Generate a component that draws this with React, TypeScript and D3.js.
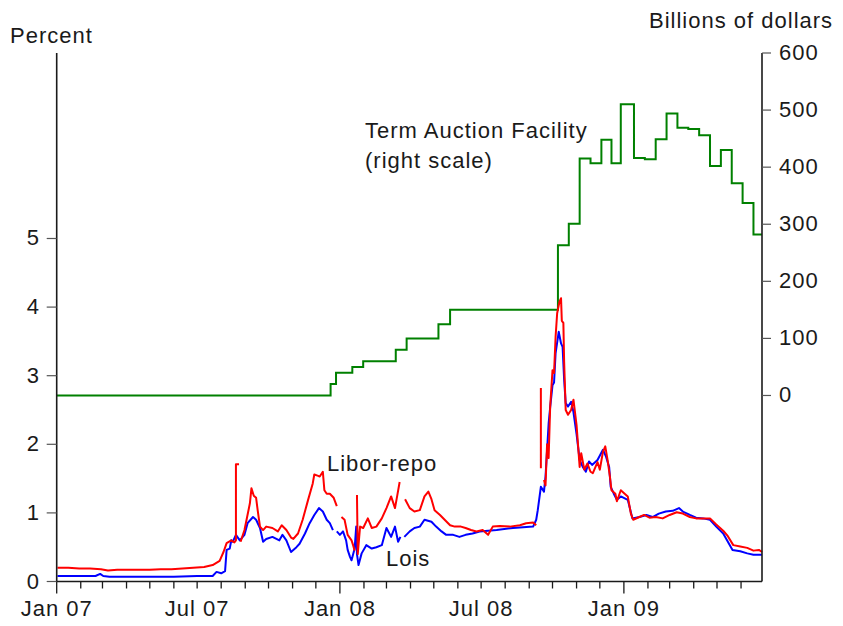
import React from "react";
import * as d3 from "d3";

const W = 843;
const H = 626;

// Libor-repo spread (percent), null = gap in the data
const liborDates = [
  "2007-01-02","2007-01-16","2007-01-30","2007-02-13","2007-02-27","2007-03-08","2007-03-20","2007-04-03",
  "2007-04-17","2007-05-01","2007-05-15","2007-05-29","2007-06-12","2007-06-26","2007-07-10","2007-07-21",
  "2007-07-30","2007-08-04","2007-08-08","2007-08-14","2007-08-18","2007-08-20","2007-08-20","2007-08-24",
  "2007-08-25","2007-08-26","2007-08-31","2007-09-07","2007-09-09","2007-09-12","2007-09-15","2007-09-17",
  "2007-09-20","2007-09-24","2007-09-28","2007-10-06","2007-10-13","2007-10-18","2007-10-24","2007-10-30",
  "2007-11-02","2007-11-08","2007-11-14","2007-11-21","2007-11-27","2007-11-29","2007-12-04","2007-12-06",
  "2007-12-10","2007-12-12","2007-12-15","2007-12-19","2007-12-24","2007-12-28","2007-12-31","2008-01-03",
  "2008-01-07","2008-01-11","2008-01-16","2008-01-18","2008-01-20","2008-01-22","2008-01-23","2008-01-24",
  "2008-01-27","2008-01-31","2008-02-06","2008-02-11","2008-02-17","2008-02-24","2008-03-01","2008-03-07",
  "2008-03-12","2008-03-15","2008-03-18","2008-03-21","2008-03-25","2008-03-31","2008-04-06","2008-04-13",
  "2008-04-19","2008-04-24","2008-04-28","2008-05-02","2008-05-09","2008-05-15","2008-05-22","2008-05-28",
  "2008-06-05","2008-06-11","2008-06-18","2008-06-25","2008-07-03","2008-07-10","2008-07-16","2008-07-25",
  "2008-08-07","2008-08-20","2008-08-28","2008-09-06","2008-09-10","2008-09-13","2008-09-16","2008-09-16",
  "2008-09-18","2008-09-20","2008-09-22","2008-09-24","2008-09-26","2008-09-28","2008-10-01","2008-10-03",
  "2008-10-05","2008-10-07","2008-10-10","2008-10-12","2008-10-13","2008-10-15","2008-10-16","2008-10-18",
  "2008-10-21","2008-10-25","2008-10-28","2008-11-01","2008-11-05","2008-11-07","2008-11-11","2008-11-15",
  "2008-11-19","2008-11-22","2008-11-28","2008-12-01","2008-12-05","2008-12-08","2008-12-11","2008-12-14",
  "2008-12-16","2008-12-21","2008-12-23","2008-12-28","2009-01-02","2009-01-06","2009-01-10","2009-01-13",
  "2009-01-21","2009-01-27","2009-02-03","2009-02-11","2009-02-20","2009-03-01","2009-03-10","2009-03-18",
  "2009-03-27","2009-04-04","2009-04-13","2009-04-22","2009-04-30","2009-05-09","2009-05-15","2009-05-22",
  "2009-05-31","2009-06-09","2009-06-17","2009-06-24","2009-06-28",
];
const liborRepo: (number | null)[] = [
  0.20, 0.20, 0.19, 0.19, 0.18, 0.16, 0.17, 0.17,
  0.17, 0.17, 0.18, 0.18, 0.19, 0.20, 0.21, 0.24,
  0.30, 0.43, 0.56, 0.60, 0.57, 0.60, 1.71, 1.71,
  null, 0.58, 0.75, 1.14, 1.36, 1.25, 1.22, 1.04,
  0.80, 0.75, 0.80, 0.78, 0.73, 0.82, 0.75, 0.64,
  0.62, 0.70, 0.90, 1.19, 1.43, 1.56, 1.54, 1.53,
  1.60, 1.33, 1.28, 1.28, 1.22, 1.10, null, 0.94,
  0.90, 0.68, 0.60, 0.53, 0.45, null, 1.26, 0.40,
  0.80, 0.78, 0.92, 0.78, 0.80, 0.92, 1.07, 1.24,
  1.07, 1.26, 1.45, null, 1.20, 1.07, 1.02, 1.04,
  1.24, 1.31, 1.20, 1.04, 0.97, 0.90, 0.82, 0.80,
  0.80, 0.78, 0.75, 0.73, 0.75, 0.68, 0.80, 0.81,
  0.80, 0.82, 0.85, 0.86, 0.82, null, 2.82, 1.65,
  null, 1.48, 1.40, 2.00, 1.80, 2.55, 3.08, 3.04,
  3.57, 3.91, 4.08, 4.13, 3.80, 3.77, 3.20, 2.50,
  2.43, 2.50, 2.65, 2.28, 1.67, 1.87, 1.63, 1.72,
  1.60, 1.58, 1.74, 1.63, 1.89, 1.97, 1.77, 1.53,
  1.33, 1.28, 1.17, 1.33, 1.28, 1.24, 0.99, 0.90,
  0.94, 0.97, 0.93, 0.94, 0.92, 0.97, 1.01, 0.99,
  0.94, 0.92, 0.92, 0.92, 0.83, 0.74, 0.66, 0.53,
  0.51, 0.49, 0.45, 0.46, 0.43,
];

// Lois spread (percent)
const loisDates = [
  "2007-01-02","2007-02-01","2007-02-20","2007-02-26","2007-03-02","2007-03-10","2007-04-01","2007-05-01",
  "2007-06-01","2007-07-01","2007-07-21","2007-07-26","2007-08-01","2007-08-06","2007-08-08","2007-08-12",
  "2007-08-14","2007-08-16","2007-08-20","2007-08-25","2007-08-31","2007-09-04","2007-09-11","2007-09-15",
  "2007-09-20","2007-09-24","2007-09-28","2007-10-06","2007-10-15","2007-10-19","2007-10-24","2007-10-30",
  "2007-11-06","2007-11-10","2007-11-17","2007-11-23","2007-11-29","2007-12-05","2007-12-10","2007-12-15",
  "2007-12-19","2007-12-23","2007-12-25","2007-12-28","2008-01-01","2008-01-05","2008-01-09","2008-01-11",
  "2008-01-14","2008-01-16","2008-01-20","2008-01-22","2008-01-23","2008-01-25","2008-01-29","2008-02-04",
  "2008-02-11","2008-02-17","2008-02-24","2008-03-01","2008-03-07","2008-03-12","2008-03-16","2008-03-19",
  "2008-03-21","2008-03-24","2008-03-31","2008-04-06","2008-04-13","2008-04-19","2008-04-28","2008-05-04",
  "2008-05-11","2008-05-17","2008-05-26","2008-06-03","2008-06-11","2008-06-20","2008-06-29","2008-07-21",
  "2008-08-11","2008-09-06","2008-09-10","2008-09-12","2008-09-16","2008-09-20","2008-09-22","2008-09-26",
  "2008-09-28","2008-10-01","2008-10-03","2008-10-05","2008-10-09","2008-10-12","2008-10-14","2008-10-16",
  "2008-10-18","2008-10-21","2008-10-25","2008-10-28","2008-11-01","2008-11-05","2008-11-09","2008-11-13",
  "2008-11-17","2008-11-21","2008-11-28","2008-12-05","2008-12-09","2008-12-13","2008-12-15","2008-12-19",
  "2008-12-23","2008-12-28","2009-01-06","2009-01-12","2009-01-21","2009-01-30","2009-02-07","2009-02-15",
  "2009-02-24","2009-03-05","2009-03-13","2009-03-18","2009-03-27","2009-04-04","2009-04-13","2009-04-22",
  "2009-04-30","2009-05-09","2009-05-15","2009-05-21","2009-05-31","2009-06-09","2009-06-17","2009-06-28",
];
const lois: (number | null)[] = [
  0.08, 0.08, 0.08, 0.11, 0.08, 0.07, 0.07, 0.07,
  0.07, 0.08, 0.08, 0.14, 0.12, 0.15, 0.46, 0.48,
  0.60, 0.58, 0.68, 0.60, 0.68, 0.85, 0.94, 0.90,
  0.78, 0.58, 0.62, 0.65, 0.60, 0.68, 0.60, 0.43,
  0.50, 0.55, 0.70, 0.85, 0.97, 1.07, 1.02, 0.90,
  0.85, 0.75, null, 0.73, 0.68, 0.73, 0.60, 0.46,
  0.36, 0.31, 0.48, 0.80, 0.40, 0.24, 0.41, 0.53,
  0.48, 0.50, 0.53, 0.78, 0.65, 0.80, 0.58, 0.65,
  null, 0.65, 0.73, 0.78, 0.80, 0.90, 0.87, 0.80,
  0.73, 0.68, 0.68, 0.65, 0.68, 0.70, 0.73, 0.75,
  0.78, 0.80, 0.90, 1.04, 1.38, 1.31, 1.53, 2.30,
  2.54, 2.86, 2.90, 3.33, 3.64, 3.47, 3.42, 2.94,
  2.60, 2.55, 2.62, 2.47, 2.15, 1.77, 1.67, 1.60,
  1.75, 1.70, 1.77, 1.92, 1.82, 1.67, 1.38, 1.28,
  1.19, 1.24, 1.19, 0.92, 0.94, 0.97, 0.94, 0.99,
  1.02, 1.03, 1.07, 1.02, 0.97, 0.93, 0.92, 0.90,
  0.80, 0.70, 0.58, 0.46, 0.44, 0.41, 0.39, 0.39,
];

// Term Auction Facility outstanding (billions of dollars), step changes
const tafDates = [
  "2007-01-01","2007-12-20","2007-12-27","2008-01-17","2008-01-31","2008-03-13","2008-03-27","2008-05-07",
  "2008-05-22","2008-10-08","2008-10-22","2008-11-05","2008-11-19","2008-12-03","2008-12-16","2008-12-28",
  "2009-01-14","2009-01-28","2009-02-11","2009-02-25","2009-03-11","2009-03-25","2009-04-08","2009-04-22",
  "2009-05-06","2009-05-20","2009-06-03","2009-06-17","2009-06-28",
];
const tafValues = [
  0, 20, 40, 50, 60, 80, 100, 125,
  150, 263, 301, 415, 407, 448, 407, 510,
  416, 414, 449, 494, 469, 467, 456, 402,
  430, 372, 337, 282, 282,
];

const leftTicks = [0, 1, 2, 3, 4, 5];
const rightTicks = [0, 100, 200, 300, 400, 500, 600];
const xLabelDates = ["2007-01-01", "2007-07-01", "2008-01-01", "2008-07-01", "2009-01-01"];
const xLabels = ["Jan 07", "Jul 07", "Jan 08", "Jul 08", "Jan 09"];

const FONT = "'Liberation Sans', Arial, Helvetica, sans-serif";

export default function App() {
  const parse = d3.utcParse("%Y-%m-%d");
  const start = parse("2007-01-01") as Date;
  const end = parse("2009-06-28") as Date;

  const left = 56.7;
  const right = 762;
  const top = 53;
  const bottom = 581.5;

  const x = d3.scaleUtc().domain([start, end]).range([left, right]);
  const yL = d3.scaleLinear().domain([0, 7.704]).range([bottom, top]);
  const yR = d3.scaleLinear().domain([-325.9, 600]).range([bottom, top]);

  type P = { d: Date; v: number | null };
  const mk = (ds: string[], vs: (number | null)[]): P[] =>
    ds.map((s, i) => ({ d: parse(s) as Date, v: vs[i] }));

  const red = mk(liborDates, liborRepo);
  const blue = mk(loisDates, lois);
  const green = mk(tafDates, tafValues);

  const lineL = d3
    .line<P>()
    .defined((p) => p.v != null)
    .x((p) => x(p.d))
    .y((p) => yL(p.v as number));
  const lineR = d3
    .line<P>()
    .curve(d3.curveStepAfter)
    .x((p) => x(p.d))
    .y((p) => yR(p.v as number));

  const months = d3.utcMonth.range(start, d3.utcDay.offset(end, 1));

  const textStyle: React.CSSProperties = {
    fontFamily: FONT,
    fontSize: 22,
    letterSpacing: 1,
    fill: "#1a1a1a",
  };

  return (
    <svg
      width={W}
      height={H}
      viewBox={`0 0 ${W} ${H}`}
      style={{ position: "absolute", left: 0, top: 0, background: "#fff" }}
    >
      <rect x={0} y={0} width={W} height={H} fill="#fff" />

      {/* series */}
      <path d={lineR(green) || ""} fill="none" stroke="#008000" strokeWidth={2} />
      <path d={lineL(blue) || ""} fill="none" stroke="#0000ff" strokeWidth={2} strokeLinejoin="round" />
      <path d={lineL(red) || ""} fill="none" stroke="#ff0000" strokeWidth={2} strokeLinejoin="round" />

      {/* axes */}
      <line x1={left} x2={left} y1={top} y2={bottom} stroke="#1a1a1a" strokeWidth={1.6} />
      <line x1={right} x2={right} y1={top} y2={bottom} stroke="#1a1a1a" strokeWidth={1.6} />
      <line x1={left} x2={right} y1={bottom} y2={bottom} stroke="#1a1a1a" strokeWidth={1.6} />

      {leftTicks.map((t) => (
        <g key={"l" + t}>
          <line x1={left - 10} x2={left} y1={yL(t)} y2={yL(t)} stroke="#555" strokeWidth={1.2} />
          <text x={40} y={yL(t) + 7} textAnchor="end" style={textStyle}>
            {t}
          </text>
        </g>
      ))}

      {rightTicks.map((t) => (
        <g key={"r" + t}>
          <line x1={right} x2={right + 9} y1={yR(t)} y2={yR(t)} stroke="#555" strokeWidth={1.2} />
          <text x={779} y={yR(t) + 7} textAnchor="start" style={textStyle}>
            {t}
          </text>
        </g>
      ))}

      {months.map((m) => {
        const major = m.getUTCMonth() === 0;
        return (
          <line
            key={m.toISOString()}
            x1={x(m)}
            x2={x(m)}
            y1={bottom}
            y2={bottom + (major ? 12 : 7)}
            stroke="#1a1a1a"
            strokeWidth={1.3}
          />
        );
      })}

      {xLabelDates.map((s, i) => (
        <text key={s} x={x(parse(s) as Date)} y={616} textAnchor="middle" style={textStyle}>
          {xLabels[i]}
        </text>
      ))}

      {/* titles */}
      <text x={10} y={43} style={textStyle}>
        Percent
      </text>
      <text x={649} y={28} style={textStyle}>
        Billions of dollars
      </text>

      {/* annotations */}
      <text x={365} y={138} style={textStyle}>
        Term Auction Facility
      </text>
      <text x={365} y={168} style={textStyle}>
        (right scale)
      </text>
      <text x={327} y={471} style={textStyle}>
        Libor-repo
      </text>
      <text x={386} y={566} style={textStyle}>
        Lois
      </text>
    </svg>
  );
}
